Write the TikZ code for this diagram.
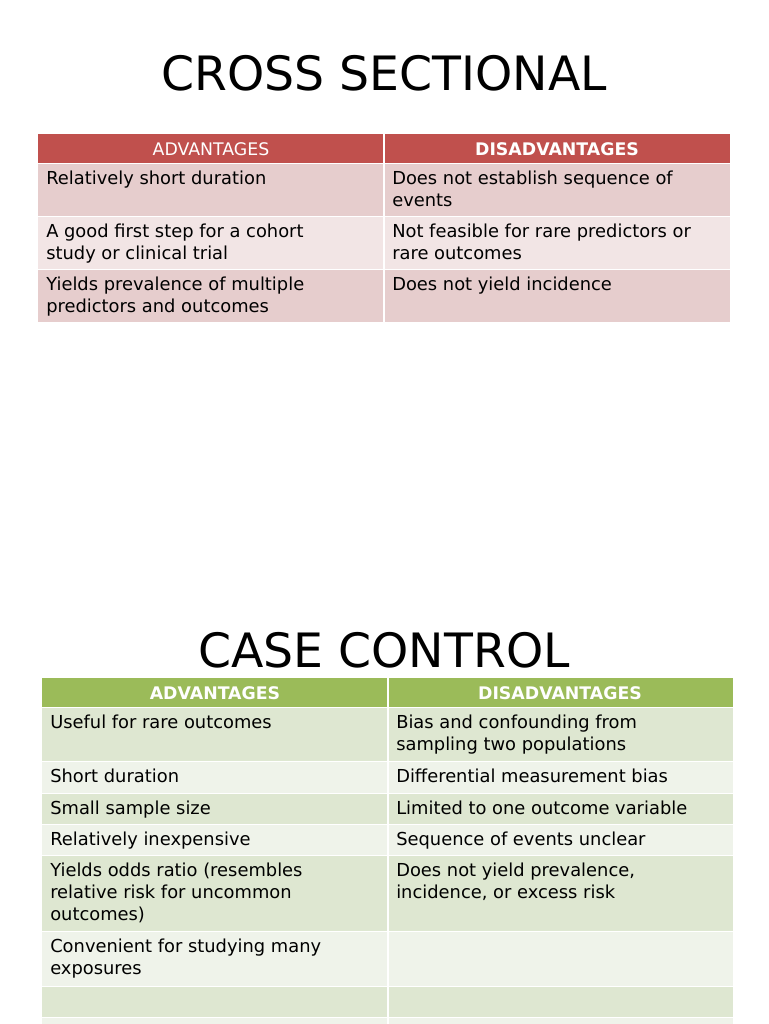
\documentclass[tikz,border=0pt]{standalone}
\usepackage{fontspec}
\setmainfont{DejaVu Sans}
\definecolor{rh}{HTML}{C0504D}\definecolor{rd}{HTML}{E6CDCD}\definecolor{rl}{HTML}{F2E5E5}
\definecolor{gh}{HTML}{9BBB59}\definecolor{gd}{HTML}{DEE7D1}\definecolor{gl}{HTML}{EFF3EA}
\begin{document}
\begin{tikzpicture}[x=0.75pt,y=-0.75pt,
  cell/.style={draw=white,line width=1.2pt},
  txt/.style={anchor=north west,inner sep=0pt,align=left,font=\fontsize{13.4}{16.5}\selectfont},
  hd/.style={text=white,font=\fontsize{13}{15}\selectfont},
  ttl/.style={font=\fontsize{35.5}{40}\selectfont}]
\useasboundingbox (0,0) rectangle (768,1024);
\clip (0,0) rectangle (768,1024);
\fill[white] (0,0) rectangle (768,1024);
\node[ttl] (t1) at (384,73) {CROSS SECTIONAL};
% table 1
\foreach \ya/\yb/\c in {134/164/rh,164/217/rd,217/270/rl,270/323/rd}{
  \fill[\c] (38,\ya) rectangle (730,\yb);
  \draw[white,line width=0.8pt] (384,\ya) -- (384,\yb);
  \draw[white,line width=1pt] (38,\yb) -- (730,\yb);}
\node[hd] (h1a) at (211,149) {ADVANTAGES};
\node[hd,font=\fontsize{13}{15}\selectfont\bfseries] (h1b) at (557,149) {DISADVANTAGES};
\node[txt] (a11) at (46,171) {Relatively short duration};
\node[txt] (b11) at (392,171) {Does not establish sequence of\\events};
\node[txt] (a12) at (46,224) {A good first step for a cohort\\study or clinical trial};
\node[txt] (b12) at (392,224) {Not feasible for rare predictors or\\rare outcomes};
\node[txt] (a13) at (46,277) {Yields prevalence of multiple\\predictors and outcomes};
\node[txt] (b13) at (392,277) {Does not yield incidence};
% table 2
\node[ttl] (t2) at (384,650) {CASE CONTROL};
\foreach \ya/\yb/\c in {678/708/gh,708/762/gd,762/794/gl,794/825/gd,825/856/gl,856/932/gd,932/987/gl,987/1018/gd,1018/1030/gl}{
  \fill[\c] (42,\ya) rectangle (733,\yb);
  \draw[white,line width=0.8pt] (388,\ya) -- (388,\yb);
  \draw[white,line width=1pt] (42,\yb) -- (733,\yb);}
\node[hd,font=\fontsize{13}{15}\selectfont\bfseries] (h2a) at (215,693) {ADVANTAGES};
\node[hd,font=\fontsize{13}{15}\selectfont\bfseries] (h2b) at (560,693) {DISADVANTAGES};
\node[txt] (a21) at (50,715) {Useful for rare outcomes};
\node[txt] (b21) at (396,715) {Bias and confounding from\\sampling two populations};
\node[txt] (a22) at (50,769) {Short duration};
\node[txt] (b22) at (396,769) {Differential measurement bias};
\node[txt] (a23) at (50,801) {Small sample size};
\node[txt] (b23) at (396,801) {Limited to one outcome variable};
\node[txt] (a24) at (50,832) {Relatively inexpensive};
\node[txt] (b24) at (396,832) {Sequence of events unclear};
\node[txt] (a25) at (50,863) {Yields odds ratio (resembles\\relative risk for uncommon\\outcomes)};
\node[txt] (b25) at (396,863) {Does not yield prevalence,\\incidence, or excess risk};
\node[txt] (a26) at (50,939) {Convenient for studying many\\exposures};
\end{tikzpicture}
\end{document}
